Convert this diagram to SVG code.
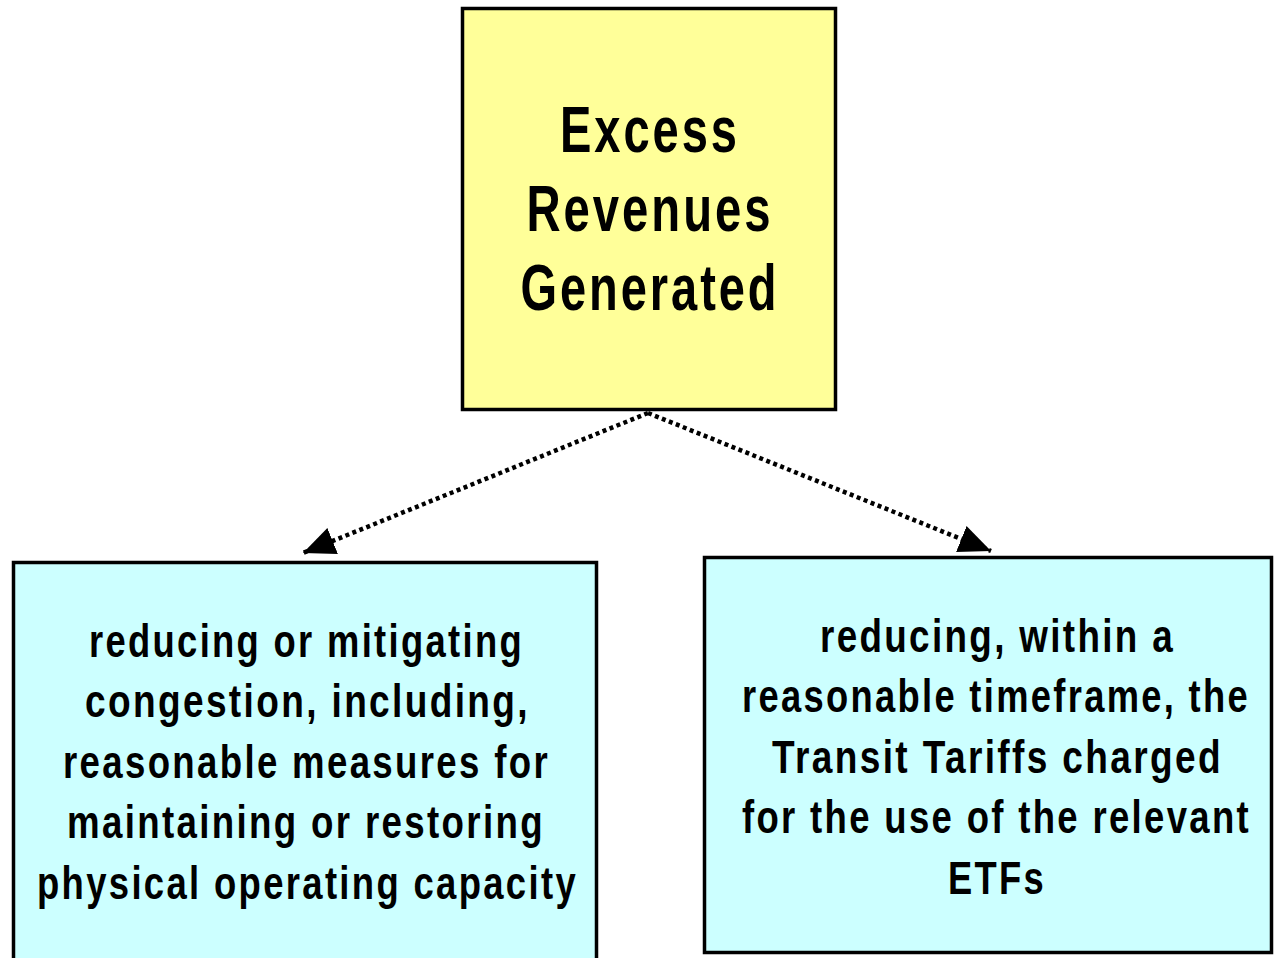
<svg xmlns="http://www.w3.org/2000/svg" width="1274" height="958" viewBox="0 0 1274 958">
  <style>
    .box { stroke: #000; stroke-width: 3.5; }
    .top { fill: #FFFF99; }
    .use { fill: #CCFFFF; }
    .label { font-family: "Liberation Sans", Arial, sans-serif; font-weight: bold; fill: #000; text-anchor: middle; }
    .big { font-size: 64px; letter-spacing: 4px; }
    .small { font-size: 47px; letter-spacing: 3px; }
    .link { fill: none; stroke: #000; stroke-width: 4.5; stroke-dasharray: 4 3.5; }
  </style>
  <defs>
    <marker id="arrow" markerUnits="userSpaceOnUse" markerWidth="34" markerHeight="28" refX="32" refY="14" orient="auto">
      <path d="M0,0 L32,14 L0,28 Z" fill="#000"/>
    </marker>
  </defs>
  <rect width="1274" height="958" fill="#fff"/>

  <g id="connectors">
    <path class="link" d="M648,413 L303,553" marker-end="url(#arrow)"/>
    <path class="link" d="M648,413 L991,551" marker-end="url(#arrow)"/>
  </g>

  <g id="excess-revenues">
    <rect class="box top" x="462.5" y="8.5" width="373" height="401"/>
    <text class="label big" x="650" y="152" textLength="180" lengthAdjust="spacingAndGlyphs">Excess</text>
    <text class="label big" x="650" y="231" textLength="247" lengthAdjust="spacingAndGlyphs">Revenues</text>
    <text class="label big" x="650" y="310" textLength="259" lengthAdjust="spacingAndGlyphs">Generated</text>
  </g>

  <g id="congestion-relief">
    <rect class="box use" x="13.5" y="562.5" width="583" height="420"/>
    <text class="label small" x="306.5" y="657" textLength="435" lengthAdjust="spacingAndGlyphs">reducing or mitigating</text>
    <text class="label small" x="307.5" y="717" textLength="445" lengthAdjust="spacingAndGlyphs">congestion, including,</text>
    <text class="label small" x="306.5" y="778" textLength="487" lengthAdjust="spacingAndGlyphs">reasonable measures for</text>
    <text class="label small" x="306" y="838" textLength="478" lengthAdjust="spacingAndGlyphs">maintaining or restoring</text>
    <text class="label small" x="307.5" y="899" textLength="541" lengthAdjust="spacingAndGlyphs">physical operating capacity</text>
  </g>

  <g id="tariff-reduction">
    <rect class="box use" x="704.5" y="557.5" width="567" height="395"/>
    <text class="label small" x="997.5" y="652" textLength="355" lengthAdjust="spacingAndGlyphs">reducing, within a</text>
    <text class="label small" x="996" y="712" textLength="508" lengthAdjust="spacingAndGlyphs">reasonable timeframe, the</text>
    <text class="label small" x="997.5" y="773" textLength="451" lengthAdjust="spacingAndGlyphs">Transit Tariffs charged</text>
    <text class="label small" x="996.5" y="833" textLength="509" lengthAdjust="spacingAndGlyphs">for the use of the relevant</text>
    <text class="label small" x="997" y="894" textLength="98" lengthAdjust="spacingAndGlyphs">ETFs</text>
  </g>
</svg>
